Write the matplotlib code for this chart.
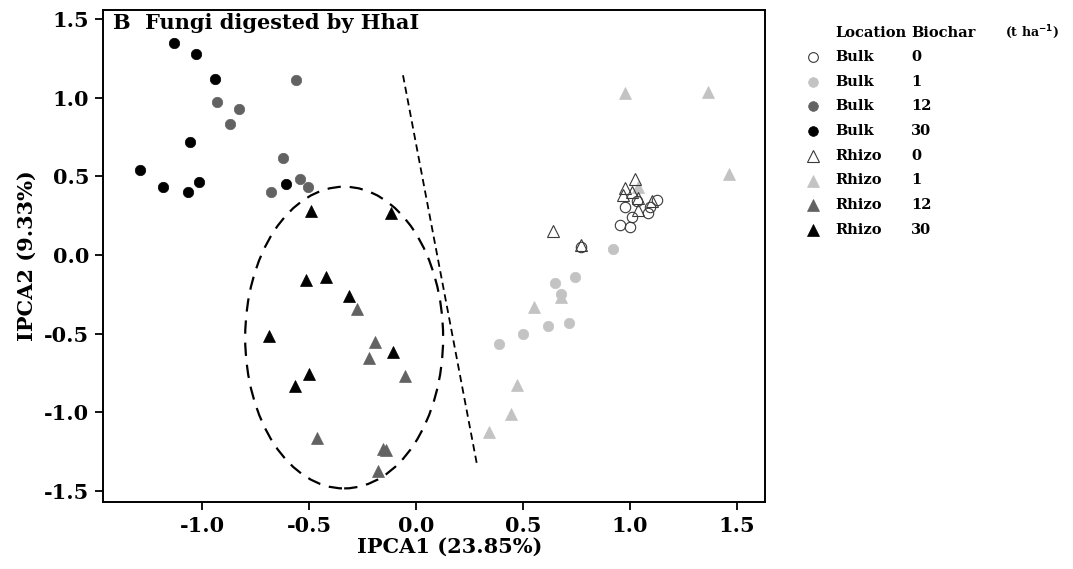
import matplotlib
matplotlib.use("Agg")
import matplotlib.pyplot as plt
from matplotlib.patches import Ellipse
from matplotlib.lines import Line2D

plt.rcParams["font.family"] = ["DejaVu Serif"]
plt.rcParams["font.weight"] = "bold"

# ---- data: PCA scores per location / biochar rate ----
locations = ["Bulk", "Bulk", "Bulk", "Bulk", "Rhizo", "Rhizo", "Rhizo", "Rhizo"]
biochar = ["0", "1", "12", "30", "0", "1", "12", "30"]

bulk0_x = [0.771, 1.031, 0.977, 1.008, 1.083, 0.953, 1.000, 1.125, 1.093]
bulk0_y = [0.051, 0.343, 0.307, 0.243, 0.265, 0.190, 0.180, 0.349, 0.305]

bulk1_x = [0.922, 0.743, 0.650, 0.716, 0.615, 0.501, 0.389, 0.678]
bulk1_y = [0.038, -0.142, -0.180, -0.430, -0.449, -0.502, -0.565, -0.248]

bulk12_x = [-0.559, -0.931, -0.829, -0.871, -0.621, -0.542, -0.506, -0.679]
bulk12_y = [1.111, 0.973, 0.931, 0.834, 0.620, 0.481, 0.430, 0.402]

bulk30_x = [-1.131, -1.028, -0.938, -1.056, -1.290, -1.184, -1.067, -1.013, -0.609]
bulk30_y = [1.348, 1.281, 1.117, 0.716, 0.540, 0.430, 0.402, 0.465, 0.451]

rhizo0_x = [0.640, 0.771, 1.023, 0.977, 0.969, 1.039, 1.101, 1.039, 1.010]
rhizo0_y = [0.152, 0.063, 0.483, 0.427, 0.385, 0.364, 0.343, 0.286, 0.400]

rhizo1_x = [0.977, 1.363, 1.464, 1.039, 0.551, 0.678, 0.473, 0.444, 0.343]
rhizo1_y = [1.027, 1.037, 0.514, 0.434, -0.328, -0.265, -0.825, -1.011, -1.122]

rhizo12_x = [-0.277, -0.192, -0.218, -0.051, -0.464, -0.142, -0.154, -0.178]
rhizo12_y = [-0.345, -0.550, -0.652, -0.766, -1.160, -1.238, -1.232, -1.371]

rhizo30_x = [-0.491, -0.117, -0.515, -0.421, -0.313, -0.686, -0.109, -0.501, -0.565]
rhizo30_y = [0.281, 0.265, -0.159, -0.142, -0.260, -0.512, -0.618, -0.757, -0.830]

series_x = [bulk0_x, bulk1_x, bulk12_x, bulk30_x, rhizo0_x, rhizo1_x, rhizo12_x, rhizo30_x]
series_y = [bulk0_y, bulk1_y, bulk12_y, bulk30_y, rhizo0_y, rhizo1_y, rhizo12_y, rhizo30_y]

x_ticks = [-1.0, -0.5, 0.0, 0.5, 1.0, 1.5]
y_ticks = [-1.5, -1.0, -0.5, 0.0, 0.5, 1.0, 1.5]

# ---- styles ----
LIGHT = "#c3c3c3"
DARK = "#626262"
fills = ["none", LIGHT, DARK, "black", "none", LIGHT, DARK, "black"]
edges = ["#3a3a3a", LIGHT, DARK, "black", "#3a3a3a", LIGHT, DARK, "black"]
markers = ["o", "o", "o", "o", "^", "^", "^", "^"]
msizes = [7.5, 7.5, 7.5, 7.5, 9.0, 9.0, 9.0, 9.0]
ewidths = [0.8, 0.5, 0.5, 0.5, 0.8, 0.5, 0.5, 0.5]

fig = plt.figure(figsize=(10.73, 5.69), dpi=100)
ax = fig.add_axes([0.096, 0.118, 0.617, 0.864])

# filled groups first, open outlines on top
order = [1, 2, 3, 5, 6, 7, 0, 4]
for i in order:
    ax.plot(series_x[i], series_y[i], linestyle="none", marker=markers[i],
            markersize=msizes[i], markerfacecolor=fills[i],
            markeredgecolor=edges[i], markeredgewidth=ewidths[i])

# grouping ellipse around the rhizosphere high-biochar samples
ax.add_patch(Ellipse((-0.336, -0.524), 0.925, 1.917, fill=False,
                     edgecolor="black", linewidth=1.6, linestyle=(0, (6, 4))))
# separating line
ax.plot([-0.061, 0.285], [1.143, -1.333], color="black", linewidth=1.3,
        linestyle=(0, (4, 2.5)))

ax.set_xlim(-1.463, 1.631)
ax.set_ylim(-1.568, 1.556)
ax.set_xticks(x_ticks)
ax.set_yticks(y_ticks)
ax.set_xticklabels([f"{v:.1f}" for v in x_ticks])
ax.set_yticklabels([f"{v:.1f}" for v in y_ticks])
ax.tick_params(direction="out", length=6, width=1.3, labelsize=15, pad=4)
for s in ax.spines.values():
    s.set_linewidth(1.4)

ax.set_xlabel("IPCA1 (23.85%)", fontsize=15, fontweight="bold", labelpad=1)
ax.xaxis.label.set_x(0.523)
ax.set_ylabel("IPCA2 (9.33%)", fontsize=15, fontweight="bold", labelpad=5)
ax.text(0.015, 0.994, "B  Fungi digested by HhaI", transform=ax.transAxes,
        ha="left", va="top", fontsize=15, fontweight="bold")

# ---- legend table ----
W, H = 1073.0, 569.0
def fx(px):
    return px / W
def fy(py):
    return 1 - py / H

fig.text(fx(835), fy(33), "Location", fontsize=10.5, fontweight="bold", va="center")
fig.text(fx(911), fy(33), "Biochar", fontsize=10.5, fontweight="bold", va="center")
fig.text(fx(1005), fy(32), r"(t ha$^{\mathbf{-1}}$)", fontsize=9, fontweight="bold", va="center")
row0, step = 57.0, 24.7
for k in range(len(locations)):
    y = fy(row0 + k * step)
    fig.add_artist(Line2D([fx(813)], [y], transform=fig.transFigure,
                          linestyle="none", marker=markers[k],
                          markersize=msizes[k] - 0.5, markerfacecolor=fills[k],
                          markeredgecolor=edges[k], markeredgewidth=ewidths[k]))
    fig.text(fx(835), y, locations[k], fontsize=10.5, fontweight="bold", va="center")
    fig.text(fx(911), y, biochar[k], fontsize=10.5, fontweight="bold", va="center")

fig.savefig("out.png", dpi=100)
